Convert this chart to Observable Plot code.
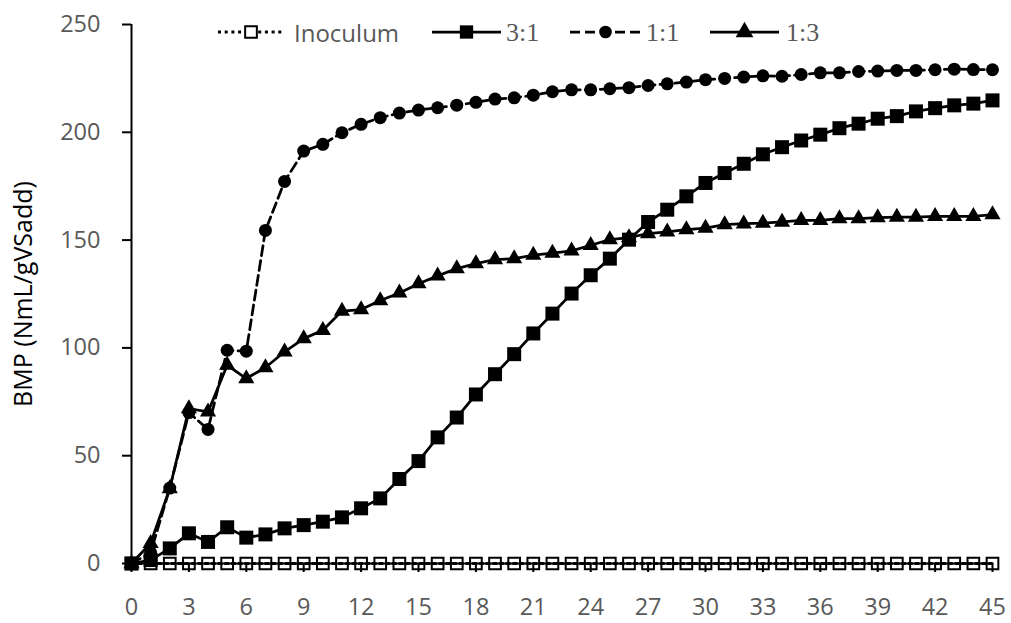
<!DOCTYPE html>
<html>
<head>
<meta charset="utf-8">
<script src="https://cdn.jsdelivr.net/npm/d3@7"></script>
<script src="https://cdn.jsdelivr.net/npm/@observablehq/plot@0.6"></script>
<style>
  html, body { margin: 0; padding: 0; background: #fff; }
  #wrap { position: relative; width: 1011px; height: 623px; overflow: hidden; }
  #legend { position: absolute; left: 0; top: 0; }
</style>
</head>
<body>
<div id="wrap"></div>
<script>
// ---- data ----
const days = [0,1,2,3,4,5,6,7,8,9,10,11,12,13,14,15,16,17,18,19,20,21,22,23,24,25,26,27,28,29,30,31,32,33,34,35,36,37,38,39,40,41,42,43,44,45];
const inoculum = [0,0,0,0,0,0,0,0,0,0,0,0,0,0,0,0,0,0,0,0,0,0,0,0,0,0,0,0,0,0,0,0,0,0,0,0,0,0,0,0,0,0,0,0,0,0];
const ratio31 = [0,1.6,7,14,10,16.8,12,13.5,16.3,17.8,19.4,21.4,25.6,30.2,39.2,47.5,58.5,67.7,78.4,87.8,97.1,106.7,115.9,125.2,133.7,141.4,150.2,158.4,164.1,170.3,176.5,181.1,185.4,189.8,193.1,196.2,198.9,201.9,204,206.3,207.5,209.7,211.2,212.5,213.3,214.8];
const ratio11 = [0,5,35,70,62.2,98.9,98.5,154.5,177.2,191.3,194.4,199.8,203.7,206.8,208.9,210.3,211.4,212.6,213.9,215.4,216,217.2,218.8,219.7,219.7,220.2,220.7,221.7,222.5,223.3,224.4,225,225.6,226.2,226,226.8,227.6,227.6,228.2,228.4,228.7,228.7,229,229.3,229.1,229];
const ratio13 = [0,9.4,34.8,71.9,70.3,92,85.8,90.9,98.2,104.3,108.2,117.1,117.8,122,125.5,129.8,133.4,136.8,139.1,141,141.4,143,144,145,147.6,150.2,151.2,153,153.8,154.9,155.6,157.2,157.6,157.9,158.4,159.2,159.2,160,160,160.4,160.7,160.7,161,161,161,161.8];
const seriesNames = ["Inoculum", "3:1", "1:1", "1:3"];
const xTicks = [0,3,6,9,12,15,18,21,24,27,30,33,36,39,42,45];
const yTicks = [0,50,100,150,200,250];
const yTitle = "BMP (NmL/gVSadd)";

const rowsOf = (vals) => days.map((d, i) => ({day: d, value: vals[i]}));
const dInoc = rowsOf(inoculum), d31 = rowsOf(ratio31), d11 = rowsOf(ratio11), d13 = rowsOf(ratio13);

const chart = Plot.plot({
  width: 1011,
  height: 623,
  marginTop: 24,
  marginBottom: 60,
  marginLeft: 131,
  marginRight: 19,
  x: {domain: [0, 45]},
  y: {domain: [0, 250]},
  style: {fontFamily: "'Open Sans', sans-serif", fontSize: "23.5px", background: "white"},
  marks: [
    Plot.axisX(xTicks, {tickSize: 9, tickPadding: 26, stroke: "black", strokeWidth: 2, fill: "#595959", label: null}),
    Plot.axisY(yTicks, {tickSize: 9, tickPadding: 22, stroke: "black", strokeWidth: 2, fill: "#595959", label: null}),
    Plot.ruleY([0], {stroke: "black", strokeWidth: 2}),
    Plot.ruleX([0], {stroke: "black", strokeWidth: 2}),
    Plot.text([yTitle], {frameAnchor: "left", dx: -108, rotate: -90, fill: "black", fontSize: 25, textAnchor: "middle"}),
    // Inoculum
    Plot.line(dInoc, {x: "day", y: "value", stroke: "black", strokeWidth: 3, strokeDasharray: "3,3.7"}),
    Plot.dot(dInoc, {x: "day", y: "value", symbol: "square", r: 6.6, fill: "none", stroke: "black", strokeWidth: 2}),
    // 3:1
    Plot.line(d31, {x: "day", y: "value", stroke: "black", strokeWidth: 2.75}),
    Plot.dot(d31, {x: "day", y: "value", symbol: "square", r: 7.9, fill: "black", stroke: "none"}),
    // 1:1
    Plot.line(d11, {x: "day", y: "value", stroke: "black", strokeWidth: 2.75, strokeDasharray: "10,5"}),
    Plot.dot(d11, {x: "day", y: "value", symbol: "circle", r: 6.5, fill: "black", stroke: "none"}),
    // 1:3
    Plot.line(d13, {x: "day", y: "value", stroke: "black", strokeWidth: 2.75}),
    Plot.dot(d13, {x: "day", y: "value", symbol: "triangle", r: 6, fill: "black", stroke: "none"})
  ]
});
const wrap = document.getElementById("wrap");
wrap.appendChild(chart);

// ---- legend (overlay) ----
const ns = "http://www.w3.org/2000/svg";
const leg = document.createElementNS(ns, "svg");
leg.setAttribute("id", "legend");
leg.setAttribute("width", 1011);
leg.setAttribute("height", 60);
const legendItems = [
  {name: seriesNames[0], x0: 218, x1: 284, dash: "3,3.7", sym: "openSquare", tx: 294, font: "'Open Sans', sans-serif", size: 24},
  {name: seriesNames[1], x0: 432, x1: 501, dash: null, sym: "square", tx: 506, font: "'Liberation Serif', serif", size: 26},
  {name: seriesNames[2], x0: 570, x1: 641, dash: "10,5", sym: "circle", tx: 646, font: "'Liberation Serif', serif", size: 26},
  {name: seriesNames[3], x0: 710, x1: 779, dash: null, sym: "triangle", tx: 786, font: "'Liberation Serif', serif", size: 26}
];
const ly = 32;
function el(tag, attrs) {
  const e = document.createElementNS(ns, tag);
  for (const k in attrs) e.setAttribute(k, attrs[k]);
  return e;
}
for (const it of legendItems) {
  const line = el("line", {x1: it.x0, x2: it.x1, y1: ly, y2: ly, stroke: "black", "stroke-width": it.sym === "openSquare" ? 3 : 2.75});
  if (it.dash) line.setAttribute("stroke-dasharray", it.dash);
  leg.appendChild(line);
  const cx = (it.x0 + it.x1) / 2;
  const p = d3.path();
  if (it.sym === "openSquare") {
    d3.symbolSquare.draw(p, Math.PI * 6.6 * 6.6);
    leg.appendChild(el("path", {d: p.toString(), transform: `translate(${cx},${ly})`, fill: "white", stroke: "black", "stroke-width": 2}));
  } else if (it.sym === "square") {
    d3.symbolSquare.draw(p, Math.PI * 7.5 * 7.5);
    leg.appendChild(el("path", {d: p.toString(), transform: `translate(${cx},${ly})`, fill: "black"}));
  } else if (it.sym === "circle") {
    leg.appendChild(el("circle", {cx: cx, cy: ly, r: 6.3, fill: "black"}));
  } else {
    d3.symbolTriangle.draw(p, Math.PI * 6.6 * 6.6);
    leg.appendChild(el("path", {d: p.toString(), transform: `translate(${cx},${ly})`, fill: "black"}));
  }
  const t = el("text", {x: it.tx, y: ly, "dominant-baseline": "central", fill: "#595959", "font-family": it.font, "font-size": it.size});
  t.textContent = it.name;
  leg.appendChild(t);
}
wrap.appendChild(leg);
</script>
</body>
</html>
